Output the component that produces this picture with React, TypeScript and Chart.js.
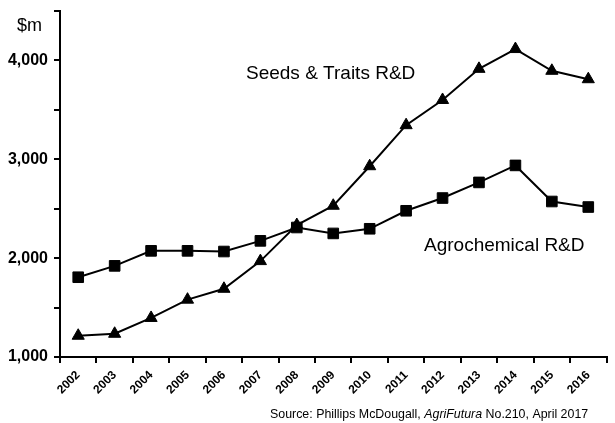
import React, { useEffect, useRef } from 'react';
import { Chart, registerables } from 'chart.js';

Chart.register(...registerables);

const years = ['2002', '2003', '2004', '2005', '2006', '2007', '2008', '2009', '2010', '2011', '2012', '2013', '2014', '2015', '2016'];
const seedsTraits = [1215, 1235, 1395, 1580, 1690, 1970, 2335, 2530, 2930, 3345, 3600, 3915, 4115, 3895, 3810];
const agrochemical = [1807, 1922, 2074, 2074, 2067, 2175, 2310, 2250, 2297, 2479, 2608, 2766, 2938, 2573, 2517];
const yTickLabels = ['1,000', '2,000', '3,000', '4,000'];

const FONT = '"Liberation Sans", Arial, Helvetica, sans-serif';

const annotationPlugin = {
  id: 'annotations',
  afterDraw(chart: any) {
    const ctx = chart.ctx as CanvasRenderingContext2D;
    ctx.save();
    ctx.fillStyle = '#000';
    ctx.textBaseline = 'alphabetic';
    ctx.textAlign = 'left';
    ctx.font = `18px ${FONT}`;
    ctx.fillText('$m', 17, 31);
    ctx.font = `19px ${FONT}`;
    ctx.fillText('Seeds & Traits R&D', 246, 79);
    ctx.fillText('Agrochemical R&D', 424, 251);
    const parts: [string, boolean][] = [
      ['Source: Phillips McDougall, ', false],
      ['AgriFutura', true],
      [' No.210, April 2017', false],
    ];
    let x = 270;
    for (const [t, it] of parts) {
      ctx.font = `${it ? 'italic ' : ''}12.4px ${FONT}`;
      ctx.fillText(t, x, 418);
      x += ctx.measureText(t).width;
    }
    ctx.restore();
  },
};

export default function App() {
  const ref = useRef<HTMLCanvasElement>(null);
  useEffect(() => {
    const chart = new Chart(ref.current!, {
      type: 'line',
      data: {
        labels: years,
        datasets: [
          {
            label: 'Seeds & Traits R&D',
            data: seedsTraits,
            borderColor: '#000',
            backgroundColor: '#000',
            borderWidth: 2,
            pointStyle: 'triangle',
            pointRadius: 7,
            pointBorderWidth: 1,
            tension: 0,
          },
          {
            label: 'Agrochemical R&D',
            data: agrochemical,
            borderColor: '#000',
            backgroundColor: '#000',
            borderWidth: 2,
            pointStyle: 'rect',
            pointRadius: 7.5,
            pointBorderWidth: 1,
            tension: 0,
          },
        ],
      },
      options: {
        responsive: false,
        animation: false,
        layout: { padding: { top: 11, right: 1, left: 0, bottom: 0 } },
        plugins: { legend: { display: false }, tooltip: { enabled: false }, title: { display: false } },
        scales: {
          x: {
            offset: true,
            grid: { offset: true, drawOnChartArea: false, tickLength: 6, color: '#000', lineWidth: 2 },
            border: { color: '#000', width: 2 },
            ticks: {
              minRotation: 45,
              maxRotation: 45,
              autoSkip: false,
              color: '#000',
              padding: 5,
              font: { family: FONT, size: 12, weight: 'bold' },
            },
            afterFit: (s: any) => { s.height = 66; s.paddingLeft = 0; s.paddingRight = 0; },
          },
          y: {
            min: 1000,
            max: 4500,
            grid: { drawOnChartArea: false, tickLength: 6, color: '#000', lineWidth: 2 },
            border: { color: '#000', width: 2 },
            ticks: {
              stepSize: 500,
              color: '#000',
              padding: 6,
              font: { family: FONT, size: 16, weight: 'bold' },
              callback: (v: any) => {
                const i = (Number(v) - 1000) / 1000;
                return Number.isInteger(i) && i < yTickLabels.length ? yTickLabels[i] : '';
              },
            },
            afterFit: (s: any) => { s.width = 60; s.paddingTop = 0; s.paddingBottom = 0; },
          },
        },
      } as any,
      plugins: [annotationPlugin],
    });
    return () => chart.destroy();
  }, []);
  return (
    <div style={{ position: 'absolute', left: 0, top: 0, width: 615, height: 423, background: '#fff' }}>
      <canvas ref={ref} width={615} height={423} style={{ display: 'block', width: 615, height: 423 }} />
    </div>
  );
}
